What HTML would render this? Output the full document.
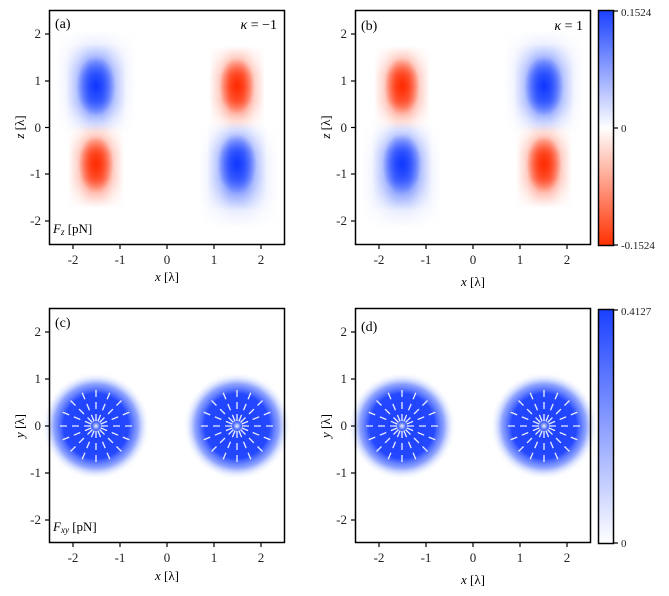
<!DOCTYPE html>
<html><head><meta charset="utf-8"><style>
html,body{margin:0;padding:0;background:#fff;}
svg{display:block;font-family:"Liberation Serif",serif;}
</style></head><body>
<svg width="669" height="596" viewBox="0 0 669 596" xmlns="http://www.w3.org/2000/svg">
<defs>
<linearGradient id="lh" x1="0" y1="0" x2="1" y2="0"><stop offset="0" stop-color="#000"/><stop offset="0.2" stop-color="#555"/><stop offset="0.4" stop-color="#eee"/><stop offset="0.5" stop-color="#fff"/><stop offset="0.6" stop-color="#eee"/><stop offset="0.8" stop-color="#555"/><stop offset="1" stop-color="#000"/></linearGradient>
<linearGradient id="lv" x1="0" y1="0" x2="0" y2="1"><stop offset="0" stop-color="#000"/><stop offset="0.15" stop-color="#555"/><stop offset="0.35" stop-color="#eee"/><stop offset="0.5" stop-color="#fff"/><stop offset="0.65" stop-color="#eee"/><stop offset="0.85" stop-color="#555"/><stop offset="1" stop-color="#000"/></linearGradient>
<mask id="mh" maskContentUnits="objectBoundingBox"><rect x="0" y="0" width="1" height="1" fill="url(#lh)"/></mask>
<mask id="mv" maskContentUnits="objectBoundingBox"><rect x="0" y="0" width="1" height="1" fill="url(#lv)"/></mask>
<radialGradient id="coreB"><stop offset="0" stop-color="#0f36ff"/><stop offset="1" stop-color="#0f36ff" stop-opacity="0"/></radialGradient>
<radialGradient id="coreR"><stop offset="0" stop-color="#ff2a00"/><stop offset="1" stop-color="#ff2a00" stop-opacity="0"/></radialGradient>
<radialGradient id="gc"><stop offset="0" stop-color="#f0f3ff"/><stop offset="0.07" stop-color="#4a6aff"/><stop offset="0.16" stop-color="#1f42ff"/><stop offset="0.6" stop-color="#2448ff"/><stop offset="0.78" stop-color="#6a86ff" stop-opacity="0.75"/><stop offset="0.9" stop-color="#c0ceff" stop-opacity="0.35"/><stop offset="1" stop-color="#ffffff" stop-opacity="0"/></radialGradient>
<linearGradient id="cb1" x1="0" y1="0" x2="0" y2="1"><stop offset="0" stop-color="#1a40ff"/><stop offset="0.5" stop-color="#ffffff"/><stop offset="1" stop-color="#ff3000"/></linearGradient>
<linearGradient id="cb2" x1="0" y1="0" x2="0" y2="1"><stop offset="0" stop-color="#1a40ff"/><stop offset="1" stop-color="#ffffff"/></linearGradient>
<g id="spoke"><line x1="5" y1="0" x2="40" y2="0" stroke="#fff" stroke-width="1.3" stroke-dasharray="7 5" opacity="0.9"/></g>
<g id="star">
<use href="#spoke" transform="rotate(0)"/><use href="#spoke" transform="rotate(22.5)"/><use href="#spoke" transform="rotate(45)"/><use href="#spoke" transform="rotate(67.5)"/><use href="#spoke" transform="rotate(90)"/><use href="#spoke" transform="rotate(112.5)"/><use href="#spoke" transform="rotate(135)"/><use href="#spoke" transform="rotate(157.5)"/><use href="#spoke" transform="rotate(180)"/><use href="#spoke" transform="rotate(202.5)"/><use href="#spoke" transform="rotate(225)"/><use href="#spoke" transform="rotate(247.5)"/><use href="#spoke" transform="rotate(270)"/><use href="#spoke" transform="rotate(292.5)"/><use href="#spoke" transform="rotate(315)"/><use href="#spoke" transform="rotate(337.5)"/>
</g>
<g id="bB"><g mask="url(#mv)"><rect x="-30" y="-44" width="60" height="88" fill="#4a6cff" mask="url(#mh)"/></g><ellipse cx="0" cy="-2" rx="20" ry="30" fill="url(#coreB)"/></g>
<g id="bR"><g mask="url(#mv)"><rect x="-28" y="-42" width="56" height="84" fill="#ff6040" mask="url(#mh)"/></g><ellipse cx="0" cy="-2" rx="18" ry="28" fill="url(#coreR)"/></g>
<g id="hB"><g mask="url(#mv)"><rect x="-40" y="-52" width="80" height="104" fill="#c4d0ff" mask="url(#mh)"/></g></g>
</defs>

<!-- Panel a -->
<g>
<use href="#hB" transform="translate(96,82)"/>
<use href="#hB" transform="translate(238,176)"/>
<use href="#bB" transform="translate(96,88)"/>
<use href="#bR" transform="translate(96,166)"/>
<use href="#bR" transform="translate(237,88)"/>
<use href="#bB" transform="translate(237,166)"/>
<rect x="49.5" y="10.5" width="235" height="234" fill="none" stroke="#000" stroke-width="1.5"/>
<g stroke="#000" stroke-width="1.2">
<line x1="73" y1="245" x2="73" y2="249"/><line x1="120" y1="245" x2="120" y2="249"/><line x1="167" y1="245" x2="167" y2="249"/><line x1="214" y1="245" x2="214" y2="249"/><line x1="261" y1="245" x2="261" y2="249"/>
<line x1="45" y1="34" x2="49" y2="34"/><line x1="45" y1="81" x2="49" y2="81"/><line x1="45" y1="127.5" x2="49" y2="127.5"/><line x1="45" y1="174" x2="49" y2="174"/><line x1="45" y1="221" x2="49" y2="221"/>
</g>
<g font-size="13" text-anchor="middle" fill="#222">
<text x="73" y="264">-2</text><text x="120" y="264">-1</text><text x="167" y="264">0</text><text x="214" y="264">1</text><text x="261" y="264">2</text>
</g>
<g font-size="13" text-anchor="end" fill="#222">
<text x="41" y="38">2</text><text x="41" y="85">1</text><text x="41" y="132">0</text><text x="41" y="178">-1</text><text x="41" y="225">-2</text>
</g>
<text x="167" y="281" font-size="13" text-anchor="middle"><tspan font-style="italic">x</tspan> [λ]</text>
<text transform="translate(24,127) rotate(-90)" font-size="13" text-anchor="middle"><tspan font-style="italic">z</tspan> [λ]</text>
<text x="55" y="28" font-size="14">(a)</text>
<text x="277" y="29" font-size="14" text-anchor="end"><tspan font-style="italic">κ</tspan> = −1</text>
<text x="53" y="233" font-size="13"><tspan font-style="italic">F</tspan><tspan font-style="italic" font-size="9" dy="2">z</tspan><tspan dy="-2"> [pN]</tspan></text>
</g>

<!-- Panel b -->
<g>
<use href="#hB" transform="translate(402,176)"/>
<use href="#hB" transform="translate(544,82)"/>
<use href="#bR" transform="translate(402,88)"/>
<use href="#bB" transform="translate(402,166)"/>
<use href="#bB" transform="translate(544,88)"/>
<use href="#bR" transform="translate(544,166)"/>
<rect x="355.5" y="10.5" width="235" height="234" fill="none" stroke="#000" stroke-width="1.5"/>
<g stroke="#000" stroke-width="1.2">
<line x1="379" y1="245" x2="379" y2="249"/><line x1="426" y1="245" x2="426" y2="249"/><line x1="473" y1="245" x2="473" y2="249"/><line x1="520" y1="245" x2="520" y2="249"/><line x1="567" y1="245" x2="567" y2="249"/>
<line x1="351" y1="34" x2="355" y2="34"/><line x1="351" y1="81" x2="355" y2="81"/><line x1="351" y1="127.5" x2="355" y2="127.5"/><line x1="351" y1="174" x2="355" y2="174"/><line x1="351" y1="221" x2="355" y2="221"/>
</g>
<g font-size="13" text-anchor="middle" fill="#222">
<text x="379" y="264">-2</text><text x="426" y="264">-1</text><text x="473" y="264">0</text><text x="520" y="264">1</text><text x="567" y="264">2</text>
</g>
<g font-size="13" text-anchor="end" fill="#222">
<text x="347" y="38">2</text><text x="347" y="85">1</text><text x="347" y="132">0</text><text x="347" y="178">-1</text><text x="347" y="225">-2</text>
</g>
<text x="473" y="286" font-size="13" text-anchor="middle"><tspan font-style="italic">x</tspan> [λ]</text>
<text transform="translate(330,127) rotate(-90)" font-size="13" text-anchor="middle"><tspan font-style="italic">z</tspan> [λ]</text>
<text x="361" y="30" font-size="14">(b)</text>
<text x="583" y="30" font-size="14" text-anchor="end"><tspan font-style="italic">κ</tspan> = 1</text>
</g>

<!-- Colorbar 1 -->
<rect x="598.5" y="10.5" width="15" height="235" fill="url(#cb1)" stroke="#000" stroke-width="1.5"/>
<g stroke="#000" stroke-width="1.2"><line x1="614" y1="11" x2="618" y2="11"/><line x1="614" y1="128" x2="618" y2="128"/><line x1="614" y1="245" x2="618" y2="245"/></g>
<g font-size="11" fill="#222"><text x="621" y="16">0.1524</text><text x="621" y="132">0</text><text x="621" y="249">-0.1524</text></g>

<!-- Panel c -->
<g>
<circle cx="96" cy="426" r="54" fill="url(#gc)"/>
<circle cx="237" cy="426" r="54" fill="url(#gc)"/>
<use href="#star" transform="translate(96,426)"/>
<use href="#star" transform="translate(237,426)"/>
<rect x="49.5" y="308.5" width="235" height="234" fill="none" stroke="#000" stroke-width="1.5"/>
<g stroke="#000" stroke-width="1.2">
<line x1="73" y1="543" x2="73" y2="547"/><line x1="120" y1="543" x2="120" y2="547"/><line x1="167" y1="543" x2="167" y2="547"/><line x1="214" y1="543" x2="214" y2="547"/><line x1="261" y1="543" x2="261" y2="547"/>
<line x1="45" y1="332" x2="49" y2="332"/><line x1="45" y1="379" x2="49" y2="379"/><line x1="45" y1="426" x2="49" y2="426"/><line x1="45" y1="473" x2="49" y2="473"/><line x1="45" y1="520" x2="49" y2="520"/>
</g>
<g font-size="13" text-anchor="middle" fill="#222">
<text x="73" y="562">-2</text><text x="120" y="562">-1</text><text x="167" y="562">0</text><text x="214" y="562">1</text><text x="261" y="562">2</text>
</g>
<g font-size="13" text-anchor="end" fill="#222">
<text x="41" y="336">2</text><text x="41" y="383">1</text><text x="41" y="430">0</text><text x="41" y="477">-1</text><text x="41" y="524">-2</text>
</g>
<text x="167" y="580" font-size="13" text-anchor="middle"><tspan font-style="italic">x</tspan> [λ]</text>
<text transform="translate(24,426) rotate(-90)" font-size="13" text-anchor="middle"><tspan font-style="italic">y</tspan> [λ]</text>
<text x="55" y="327" font-size="14">(c)</text>
<text x="53" y="531" font-size="13"><tspan font-style="italic">F</tspan><tspan font-style="italic" font-size="9" dy="2">xy</tspan><tspan dy="-2"> [pN]</tspan></text>
</g>

<!-- Panel d -->
<g>
<circle cx="402" cy="426" r="54" fill="url(#gc)"/>
<circle cx="544" cy="426" r="54" fill="url(#gc)"/>
<use href="#star" transform="translate(402,426)"/>
<use href="#star" transform="translate(544,426)"/>
<rect x="355.5" y="308.5" width="235" height="234" fill="none" stroke="#000" stroke-width="1.5"/>
<g stroke="#000" stroke-width="1.2">
<line x1="379" y1="543" x2="379" y2="547"/><line x1="426" y1="543" x2="426" y2="547"/><line x1="473" y1="543" x2="473" y2="547"/><line x1="520" y1="543" x2="520" y2="547"/><line x1="567" y1="543" x2="567" y2="547"/>
<line x1="351" y1="332" x2="355" y2="332"/><line x1="351" y1="379" x2="355" y2="379"/><line x1="351" y1="426" x2="355" y2="426"/><line x1="351" y1="473" x2="355" y2="473"/><line x1="351" y1="520" x2="355" y2="520"/>
</g>
<g font-size="13" text-anchor="middle" fill="#222">
<text x="379" y="562">-2</text><text x="426" y="562">-1</text><text x="473" y="562">0</text><text x="520" y="562">1</text><text x="567" y="562">2</text>
</g>
<g font-size="13" text-anchor="end" fill="#222">
<text x="347" y="336">2</text><text x="347" y="383">1</text><text x="347" y="430">0</text><text x="347" y="477">-1</text><text x="347" y="524">-2</text>
</g>
<text x="473" y="584" font-size="13" text-anchor="middle"><tspan font-style="italic">x</tspan> [λ]</text>
<text transform="translate(330,426) rotate(-90)" font-size="13" text-anchor="middle"><tspan font-style="italic">y</tspan> [λ]</text>
<text x="361" y="331" font-size="14">(d)</text>
</g>

<!-- Colorbar 2 -->
<rect x="598.5" y="309.5" width="15" height="234" fill="url(#cb2)" stroke="#000" stroke-width="1.5"/>
<g stroke="#000" stroke-width="1.2"><line x1="614" y1="310" x2="618" y2="310"/><line x1="614" y1="543" x2="618" y2="543"/></g>
<g font-size="11" fill="#222"><text x="621" y="315">0.4127</text><text x="621" y="547">0</text></g>
</svg>
</body></html>
